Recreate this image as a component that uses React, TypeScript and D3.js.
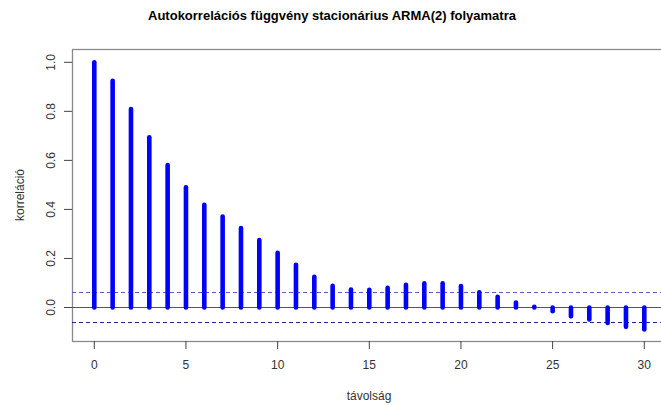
import React, { useEffect, useRef } from 'react';
import * as d3 from 'd3';

// lags 0..30 and the sample autocorrelations
const lags = d3.range(0, 31);
const acfValues = [
  1.0, 0.925, 0.809, 0.694, 0.581, 0.49, 0.419, 0.371, 0.324, 0.275, 0.223,
  0.174, 0.125, 0.089, 0.073, 0.072, 0.08, 0.093, 0.099, 0.099, 0.087,
  0.062, 0.044, 0.02, 0.003, -0.015, -0.036, -0.049, -0.063, -0.079, -0.09,
];
const ciLimit = 0.062;
const xTicks = [0, 5, 10, 15, 20, 25, 30];
const yTicks = [0, 0.2, 0.4, 0.6, 0.8, 1.0];

const W = 661;
const H = 405;

const App = () => {
  const svgRef = useRef<SVGSVGElement>(null);

  useEffect(() => {
    const svg = d3.select(svgRef.current);
    svg.selectAll('*').remove();

    const box = { left: 72, top: 49, right: 672, bottom: 341 };
    const x = d3.scaleLinear().domain([0, 30]).range([94.3, 644.3]);
    const y = d3.scaleLinear().domain([0, 1]).range([307.5, 62.3]);
    const font = 'Liberation Sans, Arial, sans-serif';
    const snap = (v: number) => Math.floor(v) + 0.5;

    // title
    svg.append('text')
      .attr('x', 332)
      .attr('y', 20)
      .attr('text-anchor', 'middle')
      .attr('font-family', font)
      .attr('font-weight', 'bold')
      .attr('font-size', 13)
      .attr('fill', '#000')
      .text('Autokorrelációs függvény stacionárius ARMA(2) folyamatra');

    // plot frame (right side lies outside the picture)
    svg.append('rect')
      .attr('x', box.left + 0.5)
      .attr('y', box.top + 0.5)
      .attr('width', box.right - box.left)
      .attr('height', box.bottom - box.top)
      .attr('fill', 'none')
      .attr('stroke', '#8a8a8a')
      .attr('stroke-width', 1.3);

    // confidence limits
    svg.append('line')
      .attr('x1', box.left).attr('x2', W)
      .attr('y1', snap(y(ciLimit))).attr('y2', snap(y(ciLimit)))
      .attr('stroke', '#5a5ac8')
      .attr('stroke-width', 1)
      .attr('stroke-dasharray', '4,3');
    svg.append('line')
      .attr('x1', box.left).attr('x2', W)
      .attr('y1', snap(y(-ciLimit))).attr('y2', snap(y(-ciLimit)))
      .attr('stroke', '#22228c')
      .attr('stroke-width', 1)
      .attr('stroke-dasharray', '4,3');

    // zero line
    svg.append('line')
      .attr('x1', box.left).attr('x2', W)
      .attr('y1', snap(y(0))).attr('y2', snap(y(0)))
      .attr('stroke', '#555')
      .attr('stroke-width', 1.2);

    // acf spikes
    svg.append('g')
      .selectAll('line')
      .data(lags)
      .enter()
      .append('line')
      .attr('x1', d => x(d))
      .attr('x2', d => x(d))
      .attr('y1', y(0))
      .attr('y2', d => y(acfValues[d]))
      .attr('stroke', '#0000ff')
      .attr('stroke-width', 4.6)
      .attr('stroke-linecap', 'round');

    // x axis ticks + labels
    const xa = svg.append('g');
    xTicks.forEach(t => {
      xa.append('line')
        .attr('x1', x(t)).attr('x2', x(t))
        .attr('y1', box.bottom).attr('y2', box.bottom + 8)
        .attr('stroke', '#444');
      xa.append('text')
        .attr('x', x(t))
        .attr('y', 369)
        .attr('text-anchor', 'middle')
        .attr('font-family', font)
        .attr('font-size', 12)
        .attr('fill', '#333')
        .text(t);
    });

    // y axis ticks + labels
    const ya = svg.append('g');
    yTicks.forEach(t => {
      ya.append('line')
        .attr('x1', box.left - 8).attr('x2', box.left)
        .attr('y1', y(t)).attr('y2', y(t))
        .attr('stroke', '#444');
      ya.append('text')
        .attr('transform', `translate(55,${y(t)}) rotate(-90)`)
        .attr('text-anchor', 'middle')
        .attr('font-family', font)
        .attr('font-size', 12)
        .attr('fill', '#333')
        .text(d3.format('.1f')(t));
    });

    // axis titles
    svg.append('text')
      .attr('x', 369)
      .attr('y', 400)
      .attr('text-anchor', 'middle')
      .attr('font-family', font)
      .attr('font-size', 12)
      .attr('fill', '#333')
      .text('távolság');
    svg.append('text')
      .attr('transform', `translate(24,${(box.top + box.bottom) / 2}) rotate(-90)`)
      .attr('text-anchor', 'middle')
      .attr('font-family', font)
      .attr('font-size', 12)
      .attr('fill', '#333')
      .text('korreláció');
  }, []);

  return (
    <svg
      ref={svgRef}
      width={W}
      height={H}
      style={{ position: 'absolute', left: 0, top: 0, background: '#fff' }}
    />
  );
};

export default App;
